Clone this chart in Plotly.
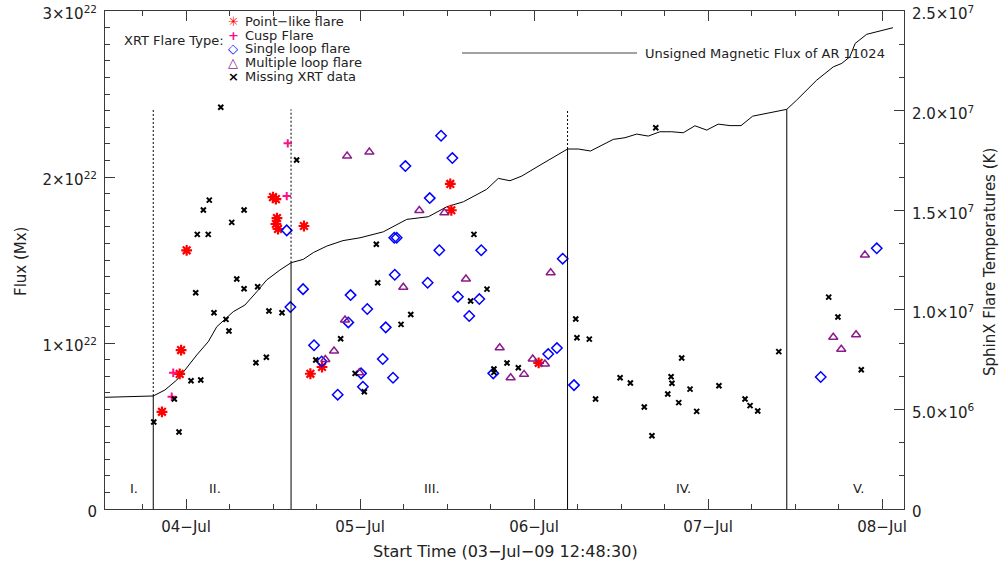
import numpy as np
import pandas as pd
import plotly.graph_objects as go

BASE = pd.Timestamp("2009-07-03 00:00:00")

# ---------------- data (times in days since 2009-07-03 00:00 UT) ----------------
# Unsigned magnetic flux of AR 11024 (units of 1e22 Mx)
flux_days = [0.534, 0.811, 0.878, 0.946, 0.993, 1.061, 1.127, 1.176, 1.271, 1.338,
             1.406, 1.463, 1.539, 1.603, 1.673, 1.731, 1.808, 1.901, 1.999, 2.133,
             2.268, 2.392, 2.498, 2.593, 2.727, 2.794, 2.861, 2.929, 3.034, 3.130,
             3.192, 3.254, 3.324, 3.455, 3.522, 3.589, 3.656, 3.723, 3.791, 3.857,
             3.924, 3.992, 4.058, 4.126, 4.189, 4.256, 4.452, 4.509, 4.624, 4.719,
             4.768, 4.815, 4.845, 4.911, 4.988, 5.062]
flux_vals = [0.673, 0.681, 0.717, 0.777, 0.837, 0.928, 1.008, 1.098, 1.189, 1.229,
             1.309, 1.380, 1.440, 1.484, 1.504, 1.545, 1.584, 1.617, 1.634, 1.670,
             1.745, 1.761, 1.821, 1.851, 1.926, 1.992, 1.978, 2.006, 2.072, 2.133,
             2.169, 2.169, 2.157, 2.227, 2.237, 2.259, 2.247, 2.273, 2.273, 2.267,
             2.309, 2.283, 2.319, 2.310, 2.310, 2.367, 2.408, 2.464, 2.584, 2.664,
             2.685, 2.725, 2.805, 2.860, 2.880, 2.900]

# SphinX flare temperatures (MK) by XRT flare type
point_days = [0.861, 0.963, 0.971, 1.003, 1.499, 1.516, 1.522, 1.516, 1.528, 1.677,
              1.714, 1.781, 2.518, 2.524, 3.026]
point_temp = [4.88, 6.78, 7.98, 12.99, 15.66, 15.56, 14.61, 14.31, 14.06, 14.21,
              6.79, 7.13, 16.32, 15.00, 7.34]

cusp_days = [0.917, 0.926, 1.578, 1.584]
cusp_temp = [5.64, 6.84, 15.71, 18.36]

single_days = [1.578, 1.599, 1.672, 1.735, 1.779, 1.871, 1.932, 1.945, 2.005, 2.016,
               2.041, 2.130, 2.147, 2.189, 2.196, 2.210, 2.199, 2.260, 2.388, 2.400,
               2.455, 2.465, 2.530, 2.562, 2.627, 2.685, 2.696, 2.765, 3.081, 3.131,
               3.164, 3.229, 4.647, 4.969]
single_temp = [13.99, 10.14, 11.04, 8.22, 7.41, 5.74, 9.37, 10.74, 6.81, 6.14,
               10.04, 7.53, 9.12, 6.59, 13.62, 13.62, 11.76, 17.22, 11.36, 15.61,
               12.99, 18.74, 17.62, 10.66, 9.69, 10.54, 12.99, 6.81, 7.78, 8.08,
               12.57, 6.22, 6.63, 13.09]

multi_days = [1.800, 1.850, 1.913, 1.925, 1.995, 2.053, 2.248, 2.340, 2.484, 2.608,
              2.802, 2.865, 2.942, 2.992, 3.062, 3.095, 4.719, 4.765, 4.850, 4.901]
multi_temp = [7.51, 7.93, 9.49, 17.72, 6.84, 17.92, 11.13, 14.99, 14.87, 11.55,
              8.10, 6.59, 6.76, 7.53, 7.28, 11.86, 8.62, 8.02, 8.75, 12.75]

missing_days = [0.814, 0.932, 0.959, 1.028, 1.084, 1.055, 1.064, 1.099, 1.127, 1.133,
                1.160, 1.199, 1.229, 1.246, 1.262, 1.291, 1.333, 1.333, 1.401, 1.411,
                1.461, 1.476, 1.551, 1.635, 1.745, 1.888, 1.971, 2.024, 2.093, 2.101,
                2.235, 2.291, 2.635, 2.654, 2.729, 2.769, 2.769, 2.844, 2.909, 3.239,
                3.246, 3.317, 3.353, 3.494, 3.553, 3.633, 3.677, 3.699, 3.768, 3.787,
                3.792, 3.831, 3.848, 3.896, 3.934, 4.062, 4.212, 4.241, 4.285, 4.406,
                4.693, 4.746, 4.880]
missing_temp = [4.37, 5.52, 3.87, 6.44, 6.48, 10.86, 13.79, 15.01, 13.79, 15.51,
                9.85, 20.17, 9.52, 8.94, 14.39, 11.55, 15.01, 11.06, 7.34, 11.16,
                7.62, 9.94, 9.85, 17.52, 7.48, 8.55, 6.81, 5.89, 13.29, 11.36,
                9.27, 9.77, 10.44, 13.79, 11.04, 7.03, 6.86, 7.33, 7.09, 9.54,
                8.60, 8.53, 5.52, 6.59, 6.33, 5.12, 3.68, 19.14, 5.77, 6.64,
                6.31, 5.34, 7.58, 6.02, 4.90, 6.19, 5.52, 5.19, 4.92, 7.90,
                10.64, 9.64, 6.99]

# Phase boundaries (days) and phase labels
boundary_days = [0.811, 1.603, 3.192, 4.452]
phase_labels = ["I.", "II.", "III.", "IV.", "V."]

legend_names = ["Point\u2212like flare", "Cusp Flare", "Single loop flare",
                "Multiple loop flare", "Missing XRT data"]

# ---------------- helpers ----------------
def to_time(days):
    return BASE + pd.to_timedelta(np.asarray(days, dtype=float), unit="D")

W, H = 1005, 563
L, R, T, B = 105, 101, 11, 54
PW, PH = W - L - R, H - T - B

def px(x):
    return (x - L) / PW

def py(y):
    return (H - B - y) / PH

FONT = "DejaVu Sans"
AXC = "#3a3a3a"
TXT = "#222222"

fig = go.Figure()

# flux curve (left axis)
fig.add_trace(go.Scatter(x=to_time(flux_days), y=np.array(flux_vals) * 1e22,
                         mode="lines", line=dict(color="black", width=1),
                         hoverinfo="skip", yaxis="y"))

# phase boundaries: solid up to the flux curve, dotted above to the last-boundary flux level
b_flux = np.interp(boundary_days, flux_days, flux_vals)
top_level = b_flux[-1]
for d, fv in zip(boundary_days, b_flux):
    t = to_time([d])[0]
    fig.add_shape(type="line", xref="x", yref="y", x0=t, x1=t, y0=0, y1=fv * 1e22,
                  line=dict(color="black", width=1))
    if fv < top_level - 1e-6:
        fig.add_shape(type="line", xref="x", yref="y", x0=t, x1=t, y0=fv * 1e22,
                      y1=top_level * 1e22, line=dict(color="black", width=1, dash="2px,2px"))

# flare temperature points (right axis)
series = [
    (point_days, point_temp, "asterisk-open", 9, "#ff0000", 2.2),
    (cusp_days, cusp_temp, "cross-thin-open", 6, "#ff1088", 2.0),
    (single_days, single_temp, "diamond-open", 8, "#0000ff", 1.5),
    (multi_days, multi_temp, "triangle-up-open", 8, "#8b1a8b", 1.5),
    (missing_days, missing_temp, "x-thin-open", 5, "#000000", 2.0),
]
for (d, tv, sym, size, col, lw), name in zip(series, legend_names):
    fig.add_trace(go.Scatter(x=to_time(d), y=np.array(tv) * 1e6, mode="markers", name=name,
                             marker=dict(symbol=sym, size=size, color=col,
                                         line=dict(color=col, width=lw)),
                             yaxis="y2", hoverinfo="skip"))

# ---------------- layout ----------------
x_start = pd.Timestamp("2009-07-03 12:48:30")
x_end = x_start + pd.to_timedelta(PW / 174.0, unit="D")

tick_font = dict(family=FONT, size=15, color=TXT)
EPS = 1.0002

fig.update_layout(
    width=W, height=H,
    margin=dict(l=L, r=R, t=T, b=B, pad=0, autoexpand=False),
    paper_bgcolor="white", plot_bgcolor="white",
    showlegend=False,
    font=dict(family=FONT, size=15, color=TXT),
    xaxis=dict(type="date", range=[x_start, x_end], showline=True, linecolor=AXC,
               linewidth=1, mirror="ticks", ticks="inside", ticklen=10, tickcolor=AXC,
               tickwidth=1, tick0="2009-07-03", dtick=86400000, tickformat="%d\u2212%b",
               minor=dict(ticks="inside", dtick=21600000, tick0="2009-07-03",
                          ticklen=5, tickcolor=AXC, tickwidth=1),
               showgrid=False, zeroline=False, tickfont=tick_font, ticklabelstandoff=4,
               automargin=False),
    yaxis=dict(range=[0, 3e22 * EPS], showline=True, linecolor=AXC, linewidth=1,
               ticks="inside", ticklen=10, tickcolor=AXC, tickwidth=1,
               tickvals=[0, 1e22, 2e22, 3e22],
               ticktext=["0", "1\u00d710<sup>22</sup>", "2\u00d710<sup>22</sup>",
                         "3\u00d710<sup>22</sup>"],
               minor=dict(ticks="inside", tickmode="linear", tick0=0, dtick=1e21,
                          ticklen=5, tickcolor=AXC, tickwidth=1),
               showgrid=False, zeroline=False, tickfont=tick_font, ticklabelstandoff=4,
               ticklabelshift=3, ticklabeloverflow="allow", automargin=False),
    yaxis2=dict(range=[0, 2.5e7 * EPS], overlaying="y", side="right", showline=True,
                linecolor=AXC, linewidth=1, ticks="inside", ticklen=10, tickcolor=AXC,
                tickwidth=1, tickvals=[0, 5e6, 1e7, 1.5e7, 2e7, 2.5e7],
                ticktext=["0", "5.0\u00d710<sup>6</sup>", "1.0\u00d710<sup>7</sup>",
                          "1.5\u00d710<sup>7</sup>", "2.0\u00d710<sup>7</sup>",
                          "2.5\u00d710<sup>7</sup>"],
                minor=dict(ticks="inside", tickmode="linear", tick0=0, dtick=5e6 / 3,
                           ticklen=5, tickcolor=AXC, tickwidth=1),
                showgrid=False, zeroline=False, tickfont=tick_font, ticklabelstandoff=4,
                ticklabelshift=3, ticklabeloverflow="allow", automargin=False),
)

ann = []
# axis titles
ann.append(dict(text="Start Time (03\u2212Jul\u221209 12:48:30)", xref="paper", yref="paper",
                x=px(506), y=py(551), showarrow=False, font=dict(family=FONT, size=16, color=TXT),
                xanchor="center", yanchor="middle"))
ann.append(dict(text="Flux (Mx)", xref="paper", yref="paper", x=px(21), y=py(262),
                textangle=-90, showarrow=False, font=dict(family=FONT, size=15, color=TXT),
                xanchor="center", yanchor="middle"))
ann.append(dict(text="SphinX Flare Temperatures (K)", xref="paper", yref="paper", x=px(990),
                y=py(262), textangle=-90, showarrow=False,
                font=dict(family=FONT, size=15, color=TXT), xanchor="center", yanchor="middle"))

# phase labels
for lab, xp in zip(phase_labels, [134, 215, 432, 683, 858]):
    ann.append(dict(text=lab, xref="paper", yref="paper", x=px(xp), y=py(488), showarrow=False,
                    font=dict(family=FONT, size=13, color=TXT), xanchor="center", yanchor="middle"))

# flare-type key
ann.append(dict(text="XRT Flare Type:", xref="paper", yref="paper", x=px(226), y=py(41),
                showarrow=False, font=dict(family=FONT, size=13, color=TXT),
                xanchor="right", yanchor="middle"))
key_syms = ["\u2733", "+", "\u25c7", "\u25b3", "\u00d7"]
key_cols = ["#ff0000", "#ff1088", "#0000ff", "#8b1a8b", "#000000"]
key_rows = [21, 35, 49, 63, 77]
for s, c, name, yr in zip(key_syms, key_cols, legend_names, key_rows):
    ann.append(dict(text="<b>%s</b>" % s, xref="paper", yref="paper", x=px(233), y=py(yr),
                    showarrow=False, font=dict(family=FONT, size=13, color=c),
                    xanchor="center", yanchor="middle"))
    ann.append(dict(text=name, xref="paper", yref="paper", x=px(243), y=py(yr),
                    showarrow=False, font=dict(family=FONT, size=13, color=TXT),
                    xanchor="left", yanchor="middle"))

# flux line key
fig.add_shape(type="line", xref="paper", yref="paper", x0=px(462), x1=px(637), y0=py(53),
              y1=py(53), line=dict(color="#444", width=1))
ann.append(dict(text="Unsigned Magnetic Flux of AR 11024", xref="paper", yref="paper",
                x=px(643), y=py(53), showarrow=False,
                font=dict(family=FONT, size=13, color=TXT), xanchor="left", yanchor="middle"))

fig.update_layout(annotations=ann)
fig.write_html("out.html")
